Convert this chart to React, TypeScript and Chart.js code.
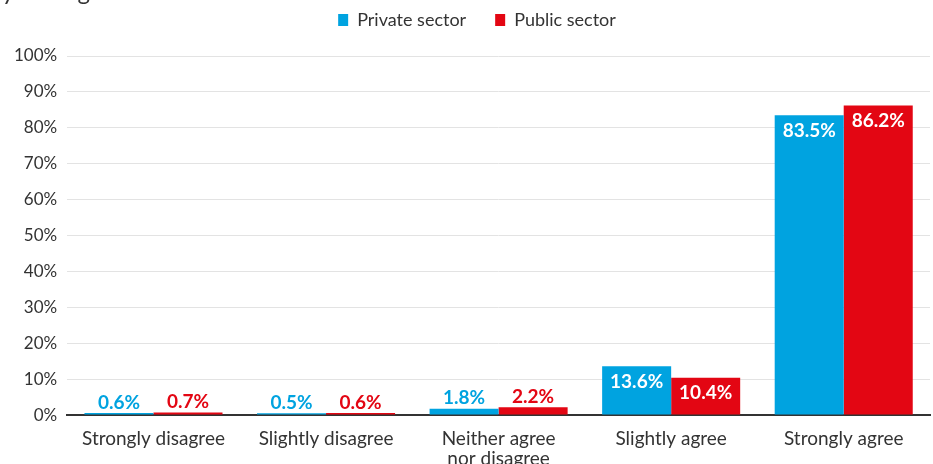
import React, { useEffect, useRef } from "react";
import { Chart, registerables } from "chart.js";

Chart.register(...registerables);

const categories: (string | string[])[] = [
  "Strongly disagree",
  "Slightly disagree",
  ["Neither agree", "nor disagree"],
  "Slightly agree",
  "Strongly agree",
];
const privateSector = [0.6, 0.5, 1.8, 13.6, 83.5];
const publicSector = [0.7, 0.6, 2.2, 10.4, 86.2];
const yTicks = [0, 10, 20, 30, 40, 50, 60, 70, 80, 90, 100];
const titleText = "your organisation's success";

const BLUE = "#00A3E0";
const RED = "#E30613";
const FONT = "Lato, 'Open Sans', sans-serif";

const labelPlugin = {
  id: "barLabels",
  afterInit(chart: any) {
    const lg = chart.legend;
    if (lg && !lg._patched) {
      const orig = lg.fit;
      lg.fit = function () {
        orig.call(this);
        this.height += 17;
      };
      lg._patched = true;
    }
  },
  afterLayout(chart: any) {
    const lg = chart.legend;
    if (lg) {
      lg.left += 10;
      lg.right += 10;
    }
  },
  afterDatasetsDraw(chart: any) {
    const ctx = chart.ctx;
    ctx.save();
    ctx.font = `bold 19px ${FONT}`;
    ctx.textAlign = "center";
    chart.data.datasets.forEach((ds: any, di: number) => {
      const meta = chart.getDatasetMeta(di);
      meta.data.forEach((bar: any, i: number) => {
        const v = ds.data[i] as number;
        const text = v.toFixed(1) + "%";
        if (v > 5) {
          ctx.fillStyle = "#ffffff";
          ctx.textBaseline = "top";
          ctx.fillText(text, bar.x, bar.y + 6);
        } else {
          ctx.fillStyle = ds.backgroundColor;
          ctx.textBaseline = "bottom";
          ctx.fillText(text, bar.x, bar.y - 1);
        }
      });
    });
    ctx.restore();
  },
};

export default function App() {
  const ref = useRef<HTMLCanvasElement | null>(null);
  useEffect(() => {
    document.body.style.margin = "0";
    if (!ref.current) return;
    const chart = new Chart(ref.current, {
      type: "bar",
      data: {
        labels: categories,
        datasets: [
          {
            label: "Private sector",
            data: privateSector,
            backgroundColor: BLUE,
            categoryPercentage: 0.8,
            barPercentage: 1.0,
          },
          {
            label: "Public sector",
            data: publicSector,
            backgroundColor: RED,
            categoryPercentage: 0.8,
            barPercentage: 1.0,
          },
        ],
      },
      options: {
        animation: false,
        responsive: false,
        maintainAspectRatio: false,
        layout: { padding: { top: 0, right: 3, left: 4, bottom: 0 } },
        plugins: {
          tooltip: { enabled: false },
          legend: {
            position: "top",
            labels: {
              boxWidth: 10,
              boxHeight: 12,
              font: { family: FONT, size: 18 },
              color: "#333333",
              padding: 11,
              generateLabels(chart: any) {
                const items = Chart.defaults.plugins.legend.labels.generateLabels(chart);
                if (items.length > 0) items[0].text = items[0].text + "\u2003\u2009\u2009";
                return items;
              },
            },
          },
        },
        scales: {
          x: {
            grid: { display: false },
            border: { display: true, color: "#333333", width: 2 },
            ticks: {
              font: { family: FONT, size: 19, lineHeight: 1.05 },
              color: "#333333",
              maxRotation: 0,
              autoSkip: false,
              padding: 6,
            },
          },
          y: {
            min: 0,
            max: 100,
            afterBuildTicks(axis: any) {
              axis.ticks = yTicks.map((v) => ({ value: v }));
            },
            grid: { color: "#e3e3e3", lineWidth: 1, drawTicks: false },
            border: { display: false },
            ticks: {
              font: { family: FONT, size: 17 },
              color: "#333333",
              padding: 10,
              callback: (v: any) => v + "%",
            },
          },
        },
      },
      plugins: [labelPlugin],
    });
    return () => chart.destroy();
  }, []);
  return (
    <div style={{ position: "relative", width: 933, height: 464, overflow: "hidden" }}>
      <div
        style={{
          position: "absolute",
          top: -24,
          left: 2,
          fontFamily: FONT,
          fontSize: 24,
          color: "#333333",
          whiteSpace: "nowrap",
        }}
      >
        {titleText}
      </div>
      <canvas ref={ref} width={933} height={475} style={{ display: "block" }} />
    </div>
  );
}
